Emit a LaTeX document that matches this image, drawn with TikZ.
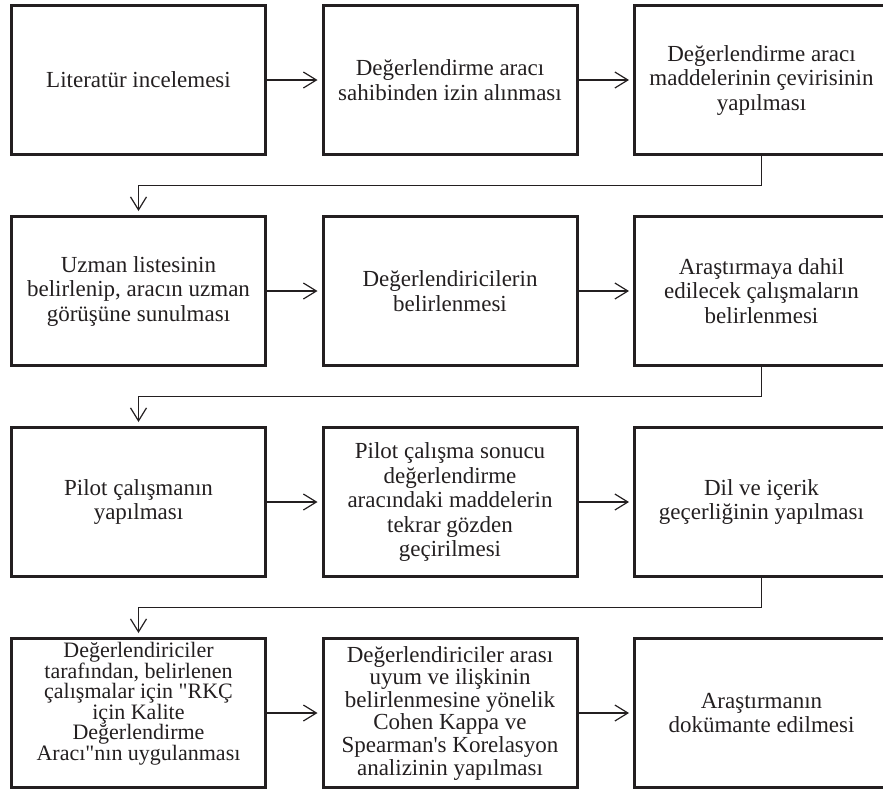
\documentclass[tikz,border=0pt]{standalone}
\usepackage{fontspec}
\setmainfont{Liberation Serif}
\usepackage{xcolor}
\usepackage{tikz}
\usetikzlibrary{
	positioning,    % kutulari birbirine gore yerlestirmek icin
	arrows.meta     % acik ok uclari icin
}
\definecolor{koyu}{HTML}{231F20}
% sik satir araligi icin
\newcommand{\sikyazi}[2]{\fontsize{#1}{#2}\selectfont\lineskiplimit-30pt\relax}

\begin{document}
\begin{tikzpicture}[
		>={Straight Barb[length=13pt,width=16pt]},
		kutu/.style={draw=koyu, line width=3pt, minimum width=254pt, minimum height=149pt,
			inner sep=2pt, align=center, text=koyu,
			font=\fontsize{23pt}{24.5pt}\selectfont},
		metin/.style={inner sep=0pt, align=center, text=koyu},
		ok/.style={->, draw=koyu, line width=1.2pt, shorten >=4pt}
	]
	% Olculer
	\def\ybosluk{59pt}   % satirlar arasi bosluk
	\def\xbosluk{54.5pt} % sutunlar arasi bosluk
	
	% --- Sayfa ---
	\useasboundingbox (0,0) rectangle (883pt,-793pt);
	\clip (0,0) rectangle (883pt,-793pt);
	
	% --- 1. satir ---
	\node[kutu] (lit) at (138.5pt,-80pt) {Literatür incelemesi};
	\node[kutu, right=\xbosluk of lit] (izin) {Değerlendirme aracı\\sahibinden izin alınması};
	\node[kutu, right=\xbosluk of izin] (ceviri) {Değerlendirme aracı\\maddelerinin çevirisinin\\yapılması};
	
	% --- 2. satir ---
	\node[kutu, below=\ybosluk of lit] (uzman) {Uzman listesinin\\belirlenip, aracın uzman\\görüşüne sunulması};
	\node[kutu, right=\xbosluk of uzman] (degerlendirici) {Değerlendiricilerin\\belirlenmesi};
	\node[kutu, right=\xbosluk of degerlendirici] (calisma) {Araştırmaya dahil\\edilecek çalışmaların\\belirlenmesi};
	
	% --- 3. satir ---
	\node[kutu, below=\ybosluk of uzman] (pilot) {Pilot çalışmanın\\yapılması};
	\node[kutu, right=\xbosluk of pilot] (gozden) {Pilot çalışma sonucu\\değerlendirme\\aracındaki maddelerin\\tekrar gözden\\geçirilmesi};
	\node[kutu, right=\xbosluk of gozden] (gecerlik) {Dil ve içerik\\geçerliğinin yapılması};
	
	% --- 4. satir ---
	\node[kutu, below=\ybosluk of pilot] (uygulama) {};
	\node[metin, anchor=north, font=\sikyazi{22pt}{20.6pt}]
		(uygulamametin) at ([yshift=-5pt]uygulama.north)
		{Değerlendiriciler\\tarafından, belirlenen\\çalışmalar için \textquotedbl RKÇ\\için Kalite\\Değerlendirme\\Aracı\textquotedbl nın uygulanması};
	\node[kutu, right=\xbosluk of uygulama, font=\sikyazi{23pt}{22.6pt}] (analiz)
		{Değerlendiriciler arası\\uyum ve ilişkinin\\belirlenmesine yönelik\\Cohen Kappa ve\\Spearman\textquotesingle s Korelasyon\\analizinin yapılması};
	\node[kutu, right=\xbosluk of analiz] (dokuman) {Araştırmanın\\dokümante edilmesi};
	
	% --- Oklar ---
	\draw[ok] (lit) -- (izin);
	\draw[ok] (izin) -- (ceviri);
	\draw[ok] (ceviri.south) -- ++(0,-29.5pt) -| (uzman.north);
	\draw[ok] (uzman) -- (degerlendirici);
	\draw[ok] (degerlendirici) -- (calisma);
	\draw[ok] (calisma.south) -- ++(0,-29.5pt) -| (pilot.north);
	\draw[ok] (pilot) -- (gozden);
	\draw[ok] (gozden) -- (gecerlik);
	\draw[ok] (gecerlik.south) -- ++(0,-29.5pt) -| (uygulama.north);
	\draw[ok] (uygulama) -- (analiz);
	\draw[ok] (analiz) -- (dokuman);
\end{tikzpicture}
\end{document}
